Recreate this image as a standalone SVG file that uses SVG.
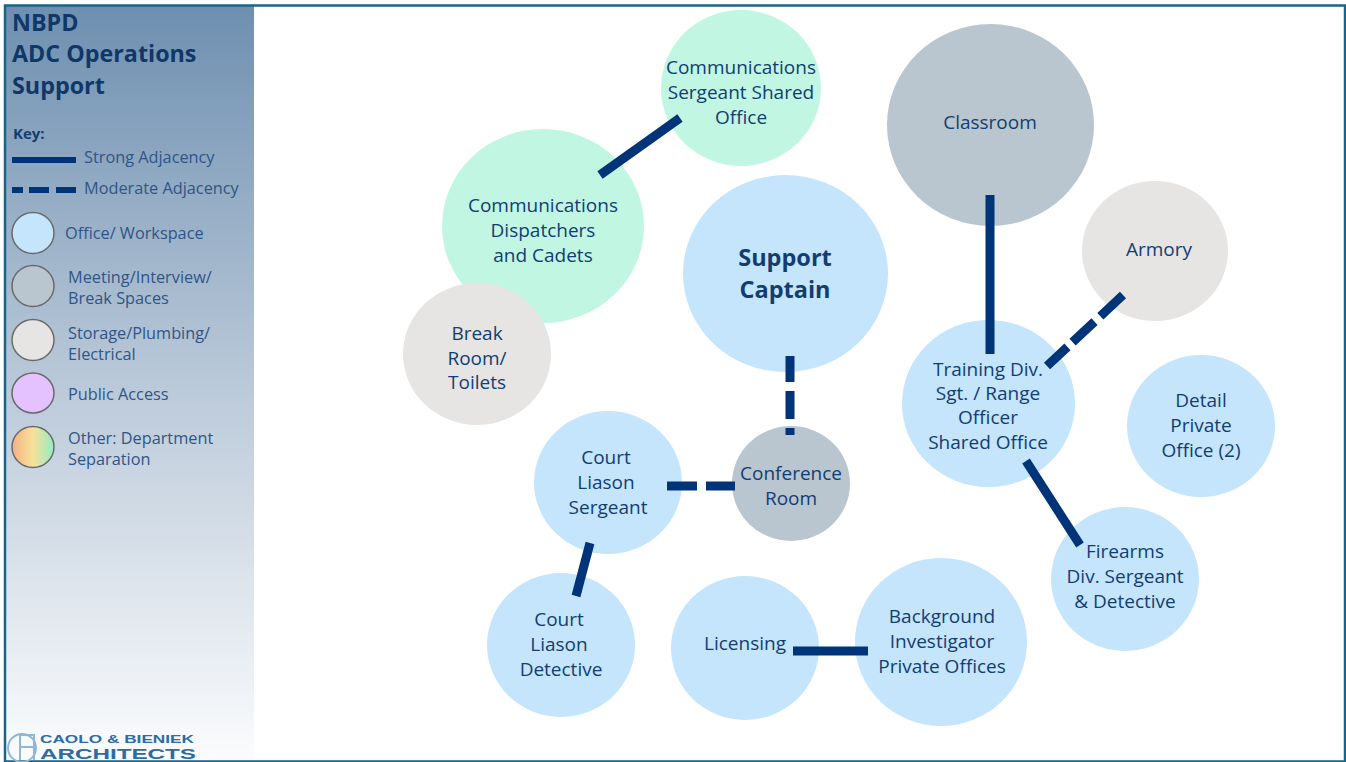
<svg xmlns="http://www.w3.org/2000/svg" width="1346" height="762" viewBox="0 0 1346 762">
<style>
text{font-family:"Open Sans","Liberation Sans",sans-serif;fill:#123d73}
.n text{font-size:19px;text-anchor:middle}
.k{font-size:16.300px;fill:#2f5587}
.t{font-size:23.300px;font-weight:700;fill:#0f3768}
.o{fill:#c4e5fc}.m{fill:#b9c6cf}.s{fill:#e6e5e3}.g{fill:#c1f6e2}
.key{stroke:#6a6a6a;stroke-width:1.5}
.c line{stroke:#003478;stroke-width:9;fill:none}
.b{font-size:24px;font-weight:700}
.l{font-family:"Liberation Sans",Arial,sans-serif;font-weight:700;fill:#2b6ca6}
</style>
<defs>
<linearGradient id="side" x1="0" y1="0" x2="0" y2="1"><stop offset="0" stop-color="#6e8fb0"/><stop offset=".5" stop-color="#bac9d9"/><stop offset="1" stop-color="#fbfcfd"/></linearGradient>
<linearGradient id="rb" x1="0" y1="0" x2="1" y2="0"><stop offset="0" stop-color="#f3b17f"/><stop offset=".5" stop-color="#f8e19a"/><stop offset="1" stop-color="#93ecc3"/></linearGradient>
</defs>
<rect width="1346" height="762" fill="#fff"/>
<rect x="5" y="6" width="249" height="755" fill="url(#side)"/>
<rect x="5" y="5.500" width="1340" height="756" fill="none" stroke="#1a6488" stroke-width="2.500"/>
<g id="title"><text class="t" x="12" y="31">NBPD</text><text class="t" x="12" y="62">ADC Operations</text><text class="t" x="12" y="94">Support</text></g>
<g id="key">
<text x="13" y="139" style="font-size:15px;font-weight:700">Key:</text>
<line x1="12" y1="160" x2="76" y2="160" stroke="#003478" stroke-width="6"/>
<line x1="12" y1="190" x2="76" y2="190" stroke="#003478" stroke-width="6" stroke-dasharray="11 6 20 7 20 0"/>
<text class="k" x="84" y="163">Strong Adjacency</text><text class="k" x="84" y="194">Moderate Adjacency</text>
<ellipse class="o key" cx="33" cy="233" rx="21" ry="20.500"/><text class="k" x="65" y="239">Office/ Workspace</text>
<ellipse class="m key" cx="33" cy="286" rx="21" ry="20.500"/><text class="k" x="68" y="283">Meeting/Interview/</text><text class="k" x="68" y="304">Break Spaces</text>
<ellipse class="s key" cx="33" cy="340" rx="21" ry="20.500"/><text class="k" x="68" y="339">Storage/Plumbing/</text><text class="k" x="68" y="360">Electrical</text>
<ellipse class="key" cx="33" cy="393" rx="21" ry="20" fill="#e3c2ff"/><text class="k" x="68" y="400">Public Access</text>
<ellipse class="key" cx="33" cy="447" rx="21" ry="20.500" fill="url(#rb)"/><text class="k" x="68" y="444">Other: Department</text><text class="k" x="68" y="465">Separation</text>
</g>
<g id="logo">
<g fill="none" stroke="#8fb8d8" stroke-width="2"><circle cx="22" cy="748" r="14"/><path d="M20 735H34V760M20 735V760M20 747H34"/></g>
<text class="l" x="40" y="742.500" textLength="154" lengthAdjust="spacingAndGlyphs" style="font-size:10.500px">CAOLO &amp; BIENIEK</text>
<text class="l" x="40" y="758.500" textLength="156" lengthAdjust="spacingAndGlyphs" style="font-size:15px">ARCHITECTS</text>
</g>
<g class="n">
<g id="comm-dispatch"><ellipse class="g" cx="543" cy="226" rx="101" ry="97"/><text x="543" y="211.500">Communications</text><text x="543" y="236.500">Dispatchers</text><text x="543" y="261.500">and Cadets</text></g>
<g id="comm-sgt"><ellipse class="g" cx="741" cy="88" rx="80" ry="78"/><text x="741" y="73.500">Communications</text><text x="741" y="98.500">Sergeant Shared</text><text x="741" y="123.500">Office</text></g>
<g id="break"><ellipse class="s" cx="477" cy="354" rx="74" ry="71"/><text x="477" y="339.500">Break</text><text x="477" y="364.500">Room/</text><text x="477" y="388.500">Toilets</text></g>
<g id="captain"><ellipse class="o" cx="785.500" cy="273.500" rx="102.500" ry="98.500"/><text class="b" x="785" y="266" style="font-size:23.500px">Support</text><text class="b" x="785" y="298" style="font-size:23.500px">Captain</text></g>
<g id="classroom"><ellipse class="m" cx="990.500" cy="125" rx="103.500" ry="101"/><text x="990" y="128.500">Classroom</text></g>
<g id="armory"><ellipse class="s" cx="1155" cy="251" rx="73" ry="70"/><text x="1159" y="255.500">Armory</text></g>
<g id="training"><ellipse class="o" cx="988.500" cy="403.500" rx="86.500" ry="83.500"/><text x="988" y="375.500">Training Div.</text><text x="988" y="399.500">Sgt. / Range</text><text x="988" y="423.500">Officer</text><text x="988" y="448.500">Shared Office</text></g>
<g id="detail"><ellipse class="o" cx="1201" cy="426" rx="74" ry="71"/><text x="1201" y="407">Detail</text><text x="1201" y="432">Private</text><text x="1201" y="457">Office (2)</text></g>
<g id="firearms"><ellipse class="o" cx="1125" cy="579" rx="74" ry="72"/><text x="1125" y="558">Firearms</text><text x="1125" y="583">Div. Sergeant</text><text x="1125" y="608">&amp; Detective</text></g>
<g id="conference"><ellipse class="m" cx="791" cy="483.500" rx="59" ry="57.500"/><text x="791" y="479.500">Conference</text><text x="791" y="504.500">Room</text></g>
<g id="court-sgt"><ellipse class="o" cx="608" cy="482.500" rx="74" ry="71.500"/><text x="606" y="463.500">Court</text><text x="606" y="488.500">Liason</text><text x="608" y="513.500">Sergeant</text></g>
<g id="court-det"><ellipse class="o" cx="561" cy="645" rx="74" ry="72"/><text x="559" y="625.500">Court</text><text x="559" y="651">Liason</text><text x="561" y="676">Detective</text></g>
<g id="licensing"><ellipse class="o" cx="745" cy="648" rx="74" ry="72"/><text x="745" y="650">Licensing</text></g>
<g id="background"><ellipse class="o" cx="941" cy="642" rx="86" ry="84"/><text x="942" y="623">Background</text><text x="942" y="648">Investigator</text><text x="942" y="673">Private Offices</text></g>
</g>
<g id="connectors" class="c">
<line x1="600" y1="175" x2="680" y2="118"/>
<line x1="990" y1="195" x2="990" y2="354"/>
<line x1="1026" y1="461" x2="1080" y2="545"/>
<line x1="793" y1="651" x2="868" y2="651"/>
<line x1="590" y1="543" x2="576" y2="596"/>
<line x1="1047" y1="366" x2="1123" y2="295" stroke-dasharray="28 7 30 8 31"/>
<line x1="790" y1="356" x2="790" y2="435" stroke-dasharray="26 9 28 9 7"/>
<line x1="667" y1="486" x2="735" y2="486" stroke-dasharray="30 9 29"/>
</g>
</svg>
